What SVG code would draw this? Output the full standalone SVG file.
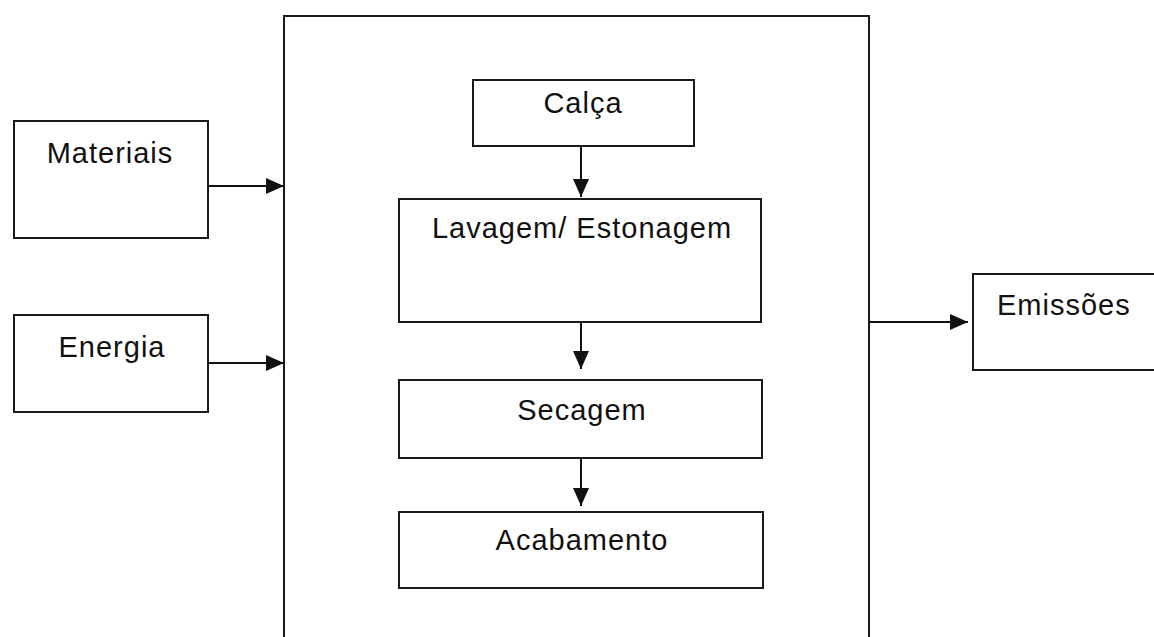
<svg xmlns="http://www.w3.org/2000/svg" width="1154" height="637" viewBox="0 0 1154 637">
  <style>
    .box { fill: #fff; stroke: #1a1a1a; stroke-width: 2; }
    .lbl { font-family: "Liberation Sans", Arial, sans-serif; font-size: 29px; letter-spacing: 1px; fill: #111; }
    .mid { text-anchor: middle; }
    .wire { fill: none; stroke: #111; stroke-width: 2; }
  </style>
  <defs>
    <marker id="head" viewBox="0 0 18 16" refX="18" refY="8" markerWidth="18" markerHeight="16" markerUnits="userSpaceOnUse" orient="auto">
      <path d="M0,0 L18,8 L0,16 Z" fill="#111"/>
    </marker>
  </defs>

  <rect width="1154" height="637" fill="#fff"/>

  <!-- process boundary, open at the bottom -->
  <g id="process">
    <path class="box" d="M284,660 L284,16 L869,16 L869,660"/>
  </g>

  <g id="materiais">
    <rect class="box" x="14" y="121" width="194" height="117"/>
    <text class="lbl mid" x="110" y="163">Materiais</text>
  </g>

  <g id="energia">
    <rect class="box" x="14" y="315" width="194" height="97"/>
    <text class="lbl mid" x="112" y="357">Energia</text>
  </g>

  <g id="calca">
    <rect class="box" x="473" y="80" width="221" height="66"/>
    <text class="lbl mid" x="583" y="113">Calça</text>
  </g>

  <g id="lavagem">
    <rect class="box" x="399" y="199" width="362" height="123"/>
    <text class="lbl mid" x="582" y="238">Lavagem/ Estonagem</text>
  </g>

  <g id="secagem">
    <rect class="box" x="399" y="380" width="363" height="78"/>
    <text class="lbl mid" x="582" y="420">Secagem</text>
  </g>

  <g id="acabamento">
    <rect class="box" x="399" y="512" width="364" height="76"/>
    <text class="lbl mid" x="582" y="550">Acabamento</text>
  </g>

  <g id="emissoes">
    <rect class="box" x="973" y="274" width="200" height="96"/>
    <text class="lbl" x="997" y="315">Emissões</text>
  </g>

  <g id="connectors">
    <line class="wire" x1="208" y1="186" x2="284" y2="186" marker-end="url(#head)"/>
    <line class="wire" x1="208" y1="363" x2="284" y2="363" marker-end="url(#head)"/>
    <line class="wire" x1="581" y1="146" x2="581" y2="197" marker-end="url(#head)"/>
    <line class="wire" x1="581" y1="322" x2="581" y2="369" marker-end="url(#head)"/>
    <line class="wire" x1="581" y1="458" x2="581" y2="506" marker-end="url(#head)"/>
    <line class="wire" x1="869" y1="322" x2="968" y2="322" marker-end="url(#head)"/>
  </g>
</svg>
